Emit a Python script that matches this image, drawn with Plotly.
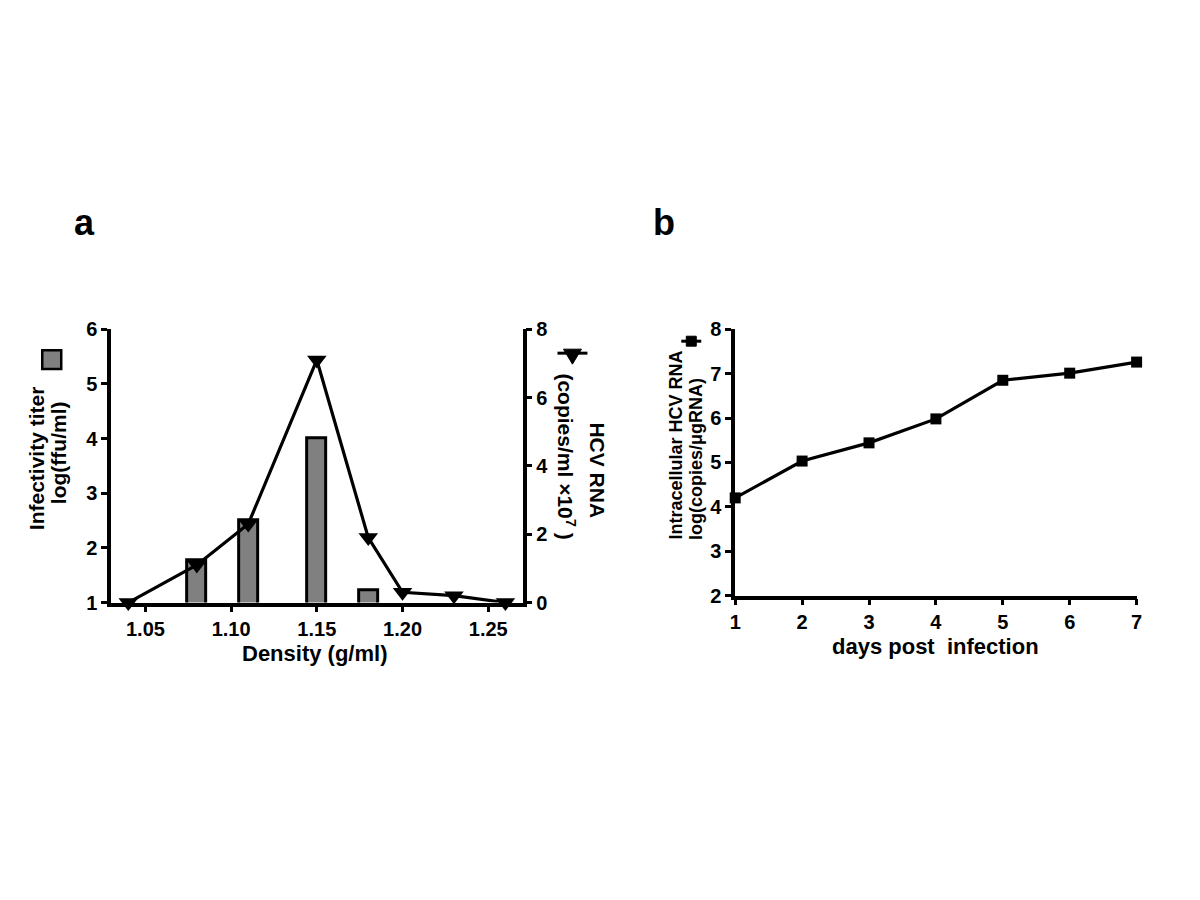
import plotly.graph_objects as go

# ---- Panel a data ----
bar_density = [1.08, 1.11, 1.15, 1.18]
bar_titer = [1.78, 2.5, 4.0, 1.22]
rna_density = [1.04, 1.08, 1.11, 1.15, 1.18, 1.20, 1.23, 1.26]
rna_copies = [0.0, 1.1, 2.3, 7.1, 1.9, 0.3, 0.2, 0.0]
a_xticks = [1.05, 1.10, 1.15, 1.20, 1.25]

# ---- Panel b data ----
days = [1, 2, 3, 4, 5, 6, 7]
intra_rna = [4.2, 5.03, 5.44, 5.98, 6.85, 7.01, 7.26]

W, H = 1200, 900
FONT = "Liberation Sans"

# page-pixel -> paper fraction (compensating the page's placement of the figure)
def px(x):
    return ((x - 12.7) / 0.9915) / W

def py(y):
    return 1 - ((y - 17.0) / 0.978) / H

fig = go.Figure()

fig.add_trace(go.Bar(
    x=bar_density, y=bar_titer, width=0.011,
    marker=dict(color="#808080", line=dict(color="black", width=3)),
    xaxis="x", yaxis="y", showlegend=False,
))
fig.add_trace(go.Scatter(
    x=rna_density, y=rna_copies, mode="lines+markers",
    line=dict(color="black", width=3.2),
    marker=dict(symbol="triangle-down", size=17, color="black"),
    xaxis="x", yaxis="y2", showlegend=False, cliponaxis=False,
))
fig.add_trace(go.Scatter(
    x=days, y=intra_rna, mode="lines+markers",
    line=dict(color="black", width=3.2),
    marker=dict(symbol="square", size=11, color="black"),
    xaxis="x3", yaxis="y3", showlegend=False, cliponaxis=False,
))

tickfont = dict(family=FONT, size=20, color="black", weight="bold")
axcommon = dict(showline=True, linecolor="black", linewidth=3.5, ticks="outside",
                ticklen=6, tickwidth=3, tickcolor="black", showgrid=False,
                zeroline=False, tickfont=tickfont)

fig.update_layout(
    width=W, height=H,
    margin=dict(l=0, r=0, t=0, b=0),
    plot_bgcolor="white", paper_bgcolor="white",
    bargap=0,
    xaxis=dict(domain=[px(110), px(522)], range=[1.03, 1.27], tickvals=a_xticks,
               tickformat=".2f", anchor="y", **axcommon),
    yaxis=dict(domain=[py(602), py(328)], range=[1, 6], dtick=1, anchor="x", **axcommon),
    yaxis2=dict(overlaying="y", side="right", range=[0, 8], dtick=2, anchor="x", **axcommon),
    xaxis3=dict(domain=[px(735), px(1137)], range=[1, 7], dtick=1, anchor="y3", **axcommon),
    yaxis3=dict(domain=[py(595), py(328)], range=[2, 8], dtick=1, anchor="x3", **axcommon),
)

def txt(text, x, y, size, angle=0, xanchor="center", yanchor="middle"):
    return dict(text=text, x=px(x), y=py(y), xref="paper", yref="paper", showarrow=False,
                textangle=angle, xanchor=xanchor, yanchor=yanchor,
                font=dict(family=FONT, size=size, color="black", weight="bold"))

ann = [
    txt("a", 83, 221, 36),
    txt("b", 664, 221, 36),
    txt("Density (g/ml)", 314, 653, 22),
    txt("days post\u00a0 infection", 936, 646, 22),
    txt("Infectivity titer", 36, 457, 21, angle=-90),
    txt("log(ffu/ml)", 58, 452, 21, angle=-90),
    txt("HCV RNA", 597, 470, 21, angle=90),
    txt("(copies/ml \u00d710<sup>7</sup> )", 566, 456, 21, angle=90),
    txt("Intracellular HCV RNA", 676, 541, 18, angle=-90, yanchor="bottom"),
    txt("log(copies/\u03bcgRNA)", 695, 541, 18, angle=-90, yanchor="bottom"),
]
fig.update_layout(annotations=ann)

shapes = [
    # legend glyph: grey square (panel a, left axis)
    dict(type="rect", xref="paper", yref="paper", x0=px(41), x1=px(60), y0=py(368), y1=py(349),
         fillcolor="#808080", line=dict(color="black", width=2.5)),
    # legend glyph: triangle with line (panel a, right axis)
    dict(type="line", xref="paper", yref="paper", x0=px(557), x1=px(587), y0=py(352), y1=py(352),
         line=dict(color="black", width=3)),
    dict(type="path", xref="paper", yref="paper",
         path=f"M {px(563)} {py(348)} L {px(581)} {py(348)} L {px(572)} {py(363)} Z",
         fillcolor="black", line=dict(color="black", width=1)),
    # legend glyph: square with line (panel b)
    dict(type="line", xref="paper", yref="paper", x0=px(681), x1=px(701), y0=py(340), y1=py(340),
         line=dict(color="black", width=3)),
    dict(type="rect", xref="paper", yref="paper", x0=px(686), x1=px(696), y0=py(345), y1=py(335),
         fillcolor="black", line=dict(color="black", width=1)),
]
fig.update_layout(shapes=shapes)

fig.write_html("out.html")
